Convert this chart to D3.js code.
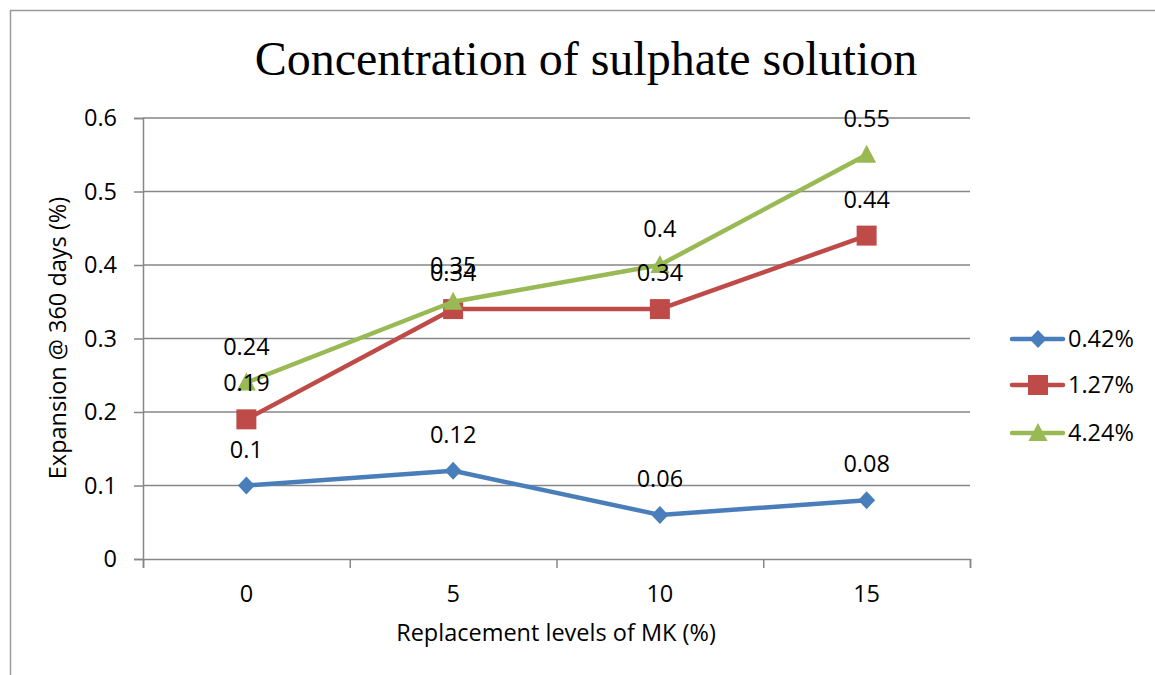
<!DOCTYPE html>
<html>
<head>
<meta charset="utf-8">
<script src="https://cdn.jsdelivr.net/npm/d3@7/dist/d3.min.js"></script>
<style>
  html, body { margin: 0; padding: 0; background: #fff; }
  svg { display: block; }
  .tick text { font-family: "Open Sans", sans-serif; }
</style>
</head>
<body>
<svg id="chart" width="1155" height="675"></svg>
<script>
// Replacement levels of MK (%)
const categories = ["0", "5", "10", "15"];
// Expansion at 360 days (%) for each sulphate concentration
const seriesNames = ["0.42%", "1.27%", "4.24%"];
const series042 = [0.1, 0.12, 0.06, 0.08];
const series127 = [0.19, 0.34, 0.34, 0.44];
const series424 = [0.24, 0.35, 0.4, 0.55];
const yTicks = [0, 0.1, 0.2, 0.3, 0.4, 0.5, 0.6];

const colors = ["#4a7ebb", "#be4b48", "#98b954"];
const markers = ["diamond", "square", "triangle"];
const seriesData = [series042, series127, series424];

const svg = d3.select("#chart");
const margin = { left: 143, right: 970, top: 118, bottom: 559 };
const font = "'Open Sans', sans-serif";
const fontSize = 23.5;
const grey = "#868686";

// outer chart frame
svg.append("rect")
  .attr("x", 10.5).attr("y", 10.5)
  .attr("width", 1160).attr("height", 680)
  .attr("fill", "none").attr("stroke", "#9a9a9a").attr("stroke-width", 1.5);

const x = d3.scaleBand().domain(categories).range([margin.left, margin.right]).paddingInner(0).paddingOuter(0);
const xEdges = d3.scaleLinear().domain([0, categories.length]).range([margin.left, margin.right]);
const y = d3.scaleLinear().domain([0, 0.6]).range([margin.bottom, margin.top]);
const cx = (i) => x(categories[i]) + x.bandwidth() / 2;

// horizontal gridlines
svg.append("g").selectAll("line").data(yTicks.filter(d => d > 0)).join("line")
  .attr("x1", margin.left).attr("x2", margin.right)
  .attr("y1", d => y(d)).attr("y2", d => y(d))
  .attr("stroke", grey).attr("stroke-width", 1.5);

// y axis
const yAxis = svg.append("g")
  .attr("transform", `translate(${margin.left},0)`)
  .call(d3.axisLeft(y).tickValues(yTicks).tickFormat(d => String(+d.toFixed(1))).tickSize(9).tickPadding(17));
yAxis.select(".domain").attr("stroke", grey).attr("stroke-width", 1.5);
yAxis.selectAll(".tick line").attr("stroke", grey).attr("stroke-width", 1.5);
yAxis.selectAll(".tick text").attr("font-size", fontSize).attr("fill", "#000");

// x axis: boundary ticks
const xTickG = svg.append("g").attr("transform", `translate(0,${margin.bottom})`)
  .call(d3.axisBottom(xEdges).ticks(categories.length).tickFormat("").tickSize(9).tickSizeOuter(9));
xTickG.select(".domain").attr("stroke", grey).attr("stroke-width", 1.5);
xTickG.selectAll(".tick line").attr("stroke", grey).attr("stroke-width", 1.5);

// x axis: category labels
const xLabG = svg.append("g").attr("transform", `translate(0,${margin.bottom})`)
  .call(d3.axisBottom(x).tickSize(0));
xLabG.select(".domain").remove();
xLabG.selectAll(".tick text").attr("font-size", fontSize).attr("fill", "#000")
  .attr("y", 43).attr("dy", 0);

// title
svg.append("text")
  .attr("x", 586).attr("y", 75)
  .attr("text-anchor", "middle")
  .attr("font-family", "'Liberation Serif', 'Times New Roman', serif")
  .attr("font-size", 48)
  .text("Concentration of sulphate solution");

// axis titles
svg.append("text")
  .attr("x", 556).attr("y", 641)
  .attr("text-anchor", "middle")
  .attr("font-family", font).attr("font-size", fontSize)
  .text("Replacement levels of MK (%)");
svg.append("text")
  .attr("transform", "translate(66,338) rotate(-90)")
  .attr("text-anchor", "middle")
  .attr("font-family", font).attr("font-size", fontSize)
  .text("Expansion @ 360 days (%)");

// marker shapes
function markerPath(type) {
  const p = d3.path();
  if (type === "diamond") {
    p.moveTo(0, -9); p.lineTo(8.5, 0); p.lineTo(0, 9); p.lineTo(-8.5, 0); p.closePath();
  } else if (type === "square") {
    p.rect(-10, -10, 20, 20);
  } else {
    p.moveTo(0, -10); p.lineTo(9.5, 8); p.lineTo(-9.5, 8); p.closePath();
  }
  return p.toString();
}

const line = d3.line().x((d, i) => cx(i)).y(d => y(d));

seriesData.forEach((vals, s) => {
  const g = svg.append("g");
  g.append("path").datum(vals)
    .attr("d", line)
    .attr("fill", "none").attr("stroke", colors[s]).attr("stroke-width", 4.5)
    .attr("stroke-linejoin", "round").attr("stroke-linecap", "round");
  g.selectAll("path.m").data(vals).join("path").attr("class", "m")
    .attr("transform", (d, i) => `translate(${cx(i)},${y(d)})`)
    .attr("d", markerPath(markers[s]))
    .attr("fill", colors[s]);
});

// data labels above each point
seriesData.forEach((vals, s) => {
  svg.append("g").selectAll("text").data(vals).join("text")
    .attr("x", (d, i) => cx(i))
    .attr("y", d => y(d) - 28)
    .attr("text-anchor", "middle")
    .attr("font-family", font).attr("font-size", fontSize)
    .attr("fill", "#000")
    .text(d => String(d));
});

// legend
const legendY = [339, 385, 433];
seriesNames.forEach((name, s) => {
  const g = svg.append("g").attr("transform", `translate(0,${legendY[s]})`);
  g.append("line").attr("x1", 1012).attr("x2", 1063).attr("y1", 0).attr("y2", 0)
    .attr("stroke", colors[s]).attr("stroke-width", 4.5).attr("stroke-linecap", "round");
  g.append("path").attr("transform", "translate(1038,0)")
    .attr("d", markerPath(markers[s])).attr("fill", colors[s]);
  g.append("text").attr("x", 1068).attr("y", 8)
    .attr("font-family", font).attr("font-size", fontSize)
    .text(name);
});
</script>
</body>
</html>
